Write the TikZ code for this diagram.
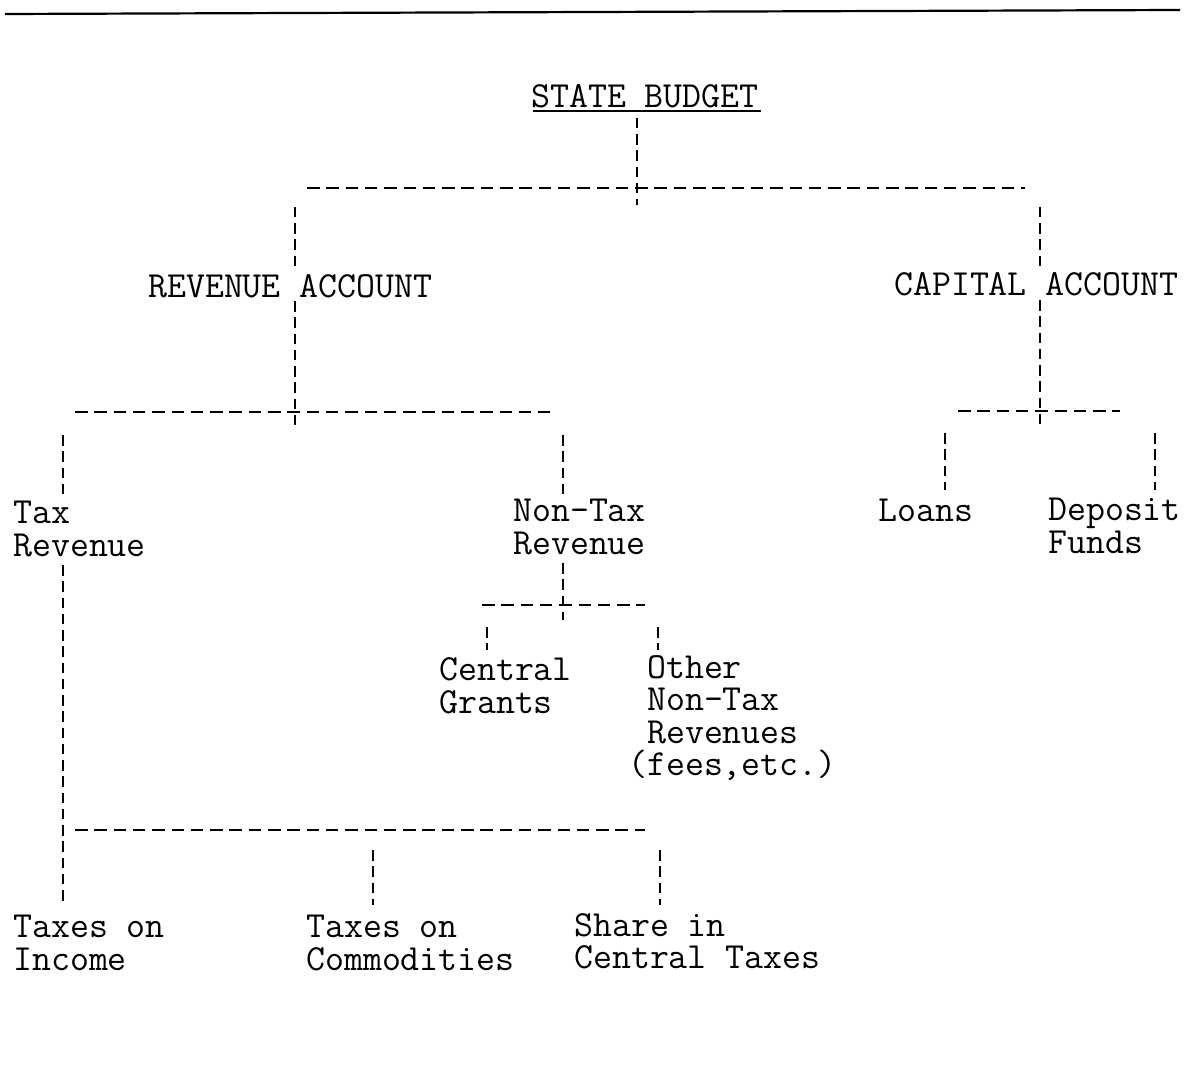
\documentclass[tikz,border=0pt]{standalone}
\usepackage{fontspec}
\begin{document}
\begin{tikzpicture}[x=1pt,y=-1pt,
  lbl/.style={anchor=west,inner sep=0pt,align=left,font=\ttfamily\fontsize{36.8}{32.5}\selectfont},
  hd/.style={line width=2.6pt,dash pattern=on 12.5pt off 6.8pt},
  vd/.style={line width=2.6pt,dash pattern=on 10.5pt off 5.75pt}]
\useasboundingbox (0,0) rectangle (1191,1091);
% top rule
\coordinate (rl) at (5,14); \coordinate (rr) at (1180,10);
\draw[line width=2.2pt] (rl) -- (rr);
% nodes
\node[lbl] (sb) at (531,96) {STATE BUDGET};
\node[lbl] (ra) at (148,286) {REVENUE ACCOUNT};
\node[lbl] (ca) at (894,284) {CAPITAL ACCOUNT};
\node[lbl] (tr) at (13,529) {Tax\\Revenue};
\node[lbl] (nt) at (513,527) {Non-Tax\\Revenue};
\node[lbl] (lo) at (878,510) {Loans};
\node[lbl] (df) at (1048,526) {Deposit\\Funds};
\node[lbl] (cg) at (439,686) {Central\\Grants};
\node[lbl] (on) at (628,718) {\ Other\\\ Non-Tax\\\ Revenues\\(fees,etc.)};
\node[lbl] (ti) at (13,943) {Taxes on\\Income};
\node[lbl] (tc) at (306,943) {Taxes on\\Commodities};
\node[lbl] (sc) at (574,941) {Share in\\Central Taxes};
% underline
\draw[line width=1.5pt] (533,111) -- (761,111);
% junction coordinates
\coordinate (j0) at (637,188);
\coordinate (j1) at (295,412);
\coordinate (j2) at (1040,411);
\coordinate (j3) at (563,605);
\coordinate (j4) at (63,830);
% state budget -> accounts
\draw[vd] (637,118) -- (j0) -- (637,205);
\draw[hd] (307,188) -- (1025,188);
\draw[vd] (295,207) -- (295,270);
\draw[vd] (1040,207) -- (1040,268);
% revenue account
\draw[vd] (295,301) -- (j1) -- (295,430);
\draw[hd] (75,412) -- (550,412);
\draw[vd] (63,435) -- (63,495);
\draw[vd] (563,435) -- (563,495);
% capital account
\draw[vd] (1040,300) -- (j2) -- (1040,428);
\draw[hd] (958,411) -- (1120,411);
\draw[vd] (945,433) -- (945,490);
\draw[vd] (1155,433) -- (1155,490);
% non-tax revenue
\draw[vd] (563,563) -- (j3) -- (563,620);
\draw[hd] (482,605) -- (645,605);
\draw[vd] (487,627) -- (487,650);
\draw[vd] (658,627) -- (658,650);
% tax revenue
\draw[vd] (63,565) -- (j4) -- (63,905);
\draw[hd] (75,830) -- (645,830);
\draw[vd] (373,850) -- (373,905);
\draw[vd] (660,850) -- (660,905);
\end{tikzpicture}
\end{document}
